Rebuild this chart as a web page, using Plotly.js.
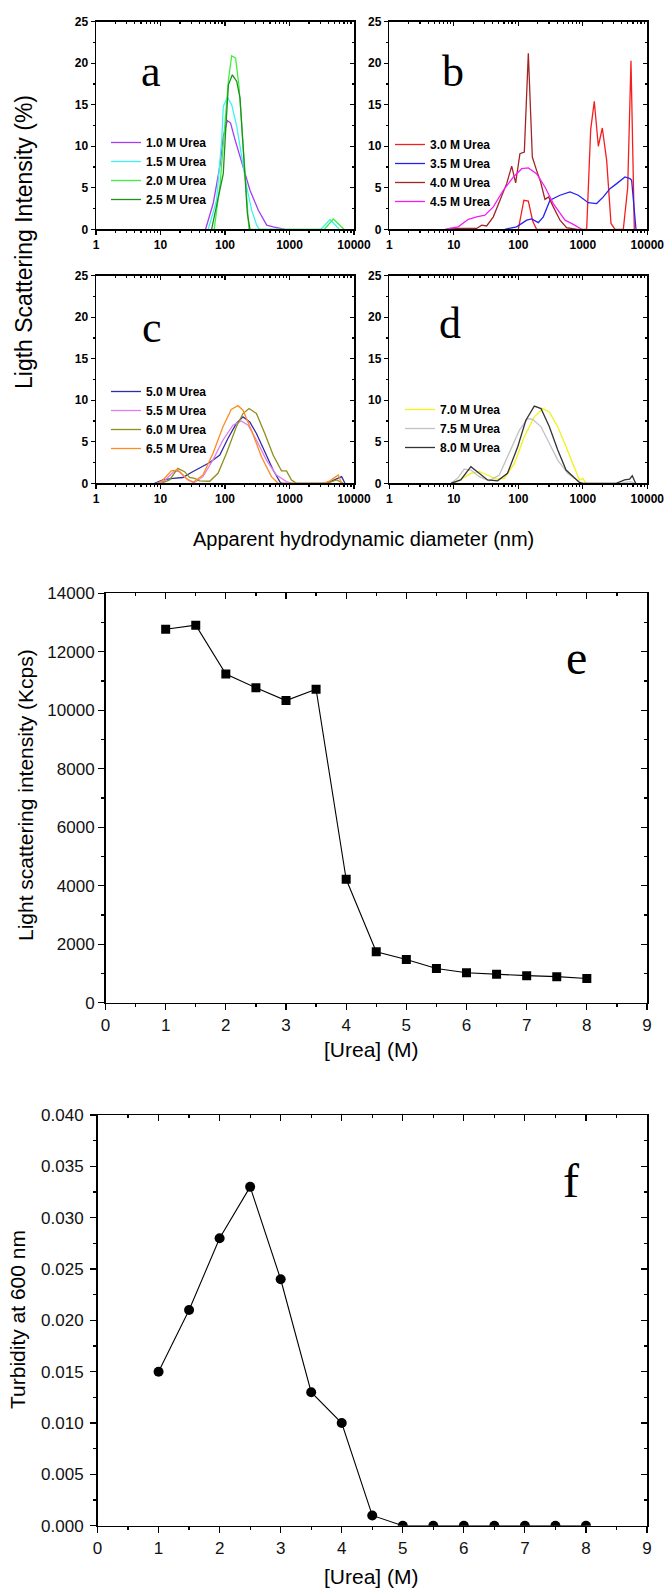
<!DOCTYPE html>
<html><head><meta charset="utf-8">
<script src="https://cdn.plot.ly/plotly-3.0.1.min.js"></script>
<style>html,body{margin:0;padding:0;background:#fff}</style>
</head><body><div id="chart" style="width:665px;height:1591px"></div>
<script>
// ---------- DATA ----------
// Panel a
const a_names = ['1.0 M Urea','1.5 M Urea','2.0 M Urea','2.5 M Urea'];
const a1_d = [50, 66, 84, 94, 109, 122, 143, 171, 204, 244, 329, 443, 561, 851];
const a1_v = [0, 3.2, 7.8, 11.2, 13.1, 12.8, 10.8, 8.7, 6.7, 4.7, 2.3, 0.5, 0.3, 0];
const a2_d = [55, 74, 89, 94, 109, 127, 152, 181, 217, 259, 310, 340, 3080, 4246, 5900];
const a2_v = [0, 3.5, 10.8, 14.8, 15.9, 15.0, 12.4, 8.7, 5.1, 2.3, 0.5, 0, 0, 1.18, 0];
const a3_d = [68, 84, 100, 113, 127, 146, 165, 192, 222, 235, 3467, 4786, 7000];
const a3_v = [0, 5.5, 12.8, 18.0, 20.9, 20.6, 17.2, 9.5, 2.7, 0, 0, 1.24, 0];
const a4_d = [62, 79, 94, 104, 113, 130, 152, 171, 192, 222, 244];
const a4_v = [0, 3.9, 6.7, 12.8, 17.4, 18.6, 17.8, 15.8, 10.0, 1.9, 0];
// Panel b
const b_names = ['3.0 M Urea','3.5 M Urea','4.0 M Urea','4.5 M Urea'];
const b1_d = [100, 122, 143, 167, 192, 1148, 1325, 1507, 1740, 2006, 2344, 2737, 3162, 4246, 4966, 5585, 6290];
const b1_v = [0, 3.5, 3.4, 1.0, 0, 0, 12.0, 15.4, 10.0, 12.2, 8.3, 0.7, 0, 0, 5.0, 20.3, 0];
const b2_d = [62, 94, 135, 161, 204, 244, 310, 443, 633, 851, 1217, 1637, 2079, 2638, 3350, 4506, 5385, 5717, 6673];
const b2_v = [0, 0.3, 1.1, 1.25, 0.8, 1.5, 3.5, 4.1, 4.5, 4.1, 3.2, 3.1, 3.9, 4.9, 5.5, 6.3, 6.1, 5.9, 0];
const b3_d = [7.7, 8.7, 22.6, 27, 32.3, 41, 52, 66, 79, 91, 106, 124, 143, 165, 192, 222, 259, 295, 349, 443, 561, 802];
const b3_v = [0, 0.1, 0.1, 0.5, 0.4, 1.5, 3.5, 5.5, 7.6, 5.6, 9.1, 9.3, 21.2, 8.7, 7.1, 5.7, 3.6, 3.9, 2.7, 1.1, 0.2, 0];
const b4_d = [7.3, 11.7, 16.8, 22.6, 30.4, 41, 58.5, 84, 113, 143, 192, 259, 349, 530, 713, 959];
const b4_v = [0, 0.3, 1.2, 1.5, 1.7, 2.7, 4.7, 6.3, 7.3, 7.4, 6.7, 5.1, 3.1, 1.1, 0.6, 0];
// Panel c
const c_names = ['5.0 M Urea','5.5 M Urea','6.0 M Urea','6.5 M Urea'];
const c1_d = [8.1, 10.9, 15.6, 22.2, 30, 40, 58, 83, 111, 150, 190, 242, 307, 414, 557, 707, 751, 3757, 4775, 6428, 7244];
const c1_v = [0, 0.4, 0.6, 0.7, 1.3, 1.8, 2.5, 3.4, 5.4, 7.2, 8.0, 7.4, 6.0, 3.8, 1.6, 0.2, 0, 0, 0.4, 0.8, 0];
const c2_d = [8.6, 11.5, 16.5, 19.7, 26.6, 33.8, 45.5, 65, 93, 133, 179, 228, 307, 439, 628, 898, 1074];
const c2_v = [0, 0.3, 1.5, 1.4, 0.4, 0.1, 0.8, 2.8, 5.2, 7.0, 7.5, 7.0, 5.2, 2.8, 1.0, 0.2, 0];
const c3_d = [10.2, 13.8, 18.6, 23.6, 28.2, 33.8, 40, 58, 78, 105, 150, 190, 236, 307, 414, 557, 751, 898, 1074, 1284, 3757, 5380, 6820];
const c3_v = [0, 0.4, 1.8, 1.4, 0.7, 0.6, 0.3, 0.25, 1.2, 3.6, 6.8, 8.4, 9.0, 8.4, 6.0, 3.4, 1.5, 1.5, 0.4, 0, 0, 0.4, 0];
const c4_d = [9.1, 10.9, 14.7, 18.6, 25, 31.8, 45.5, 65, 93, 125, 159, 190, 257, 367, 525, 667, 3337, 4236, 5702, 6428];
const c4_v = [0, 0.4, 1.5, 1.6, 0.6, 0.1, 1.0, 3.6, 6.8, 8.9, 9.35, 8.8, 6.4, 3.2, 0.8, 0, 0, 0.3, 1.0, 0];
// Panel d
const d_names = ['7.0 M Urea','7.5 M Urea','8.0 M Urea'];
const d1_d = [10.1, 13.6, 18.4, 24.8, 33.4, 45, 60.6, 87, 124, 177, 239, 303, 409, 550, 742, 888, 1000, 1127];
const d1_v = [0, 0.6, 1.2, 1.4, 1.0, 0.5, 0.6, 2.4, 5.6, 8.0, 9.0, 8.6, 6.8, 4.4, 2.0, 0.4, 0.6, 0];
const d2_d = [9, 11.4, 14.5, 18.4, 24.8, 35.4, 50.7, 72, 104, 140, 167, 225, 303, 409, 584, 787, 942, 3757, 5380, 6820];
const d2_v = [0, 0.6, 1.7, 1.6, 0.8, 0.3, 1.0, 3.6, 6.4, 7.8, 7.7, 6.8, 4.8, 2.8, 1.2, 0.4, 0, 0, 0.2, 0];
const d3_d = [9, 12.8, 18.4, 24.8, 33.4, 47.7, 68, 98, 131, 177, 225, 303, 409, 550, 742, 888, 1000, 3300, 4446, 5310, 5848, 6590];
const d3_v = [0, 0.4, 2.0, 1.2, 0.4, 0.3, 1.2, 4.4, 7.6, 9.3, 9.0, 6.8, 4.0, 1.6, 0.6, 0.1, 0, 0, 0.4, 0.5, 0.9, 0];
// Panels e, f
const urea = [1, 1.5, 2, 2.5, 3, 3.5, 4, 4.5, 5, 5.5, 6, 6.5, 7, 7.5, 8];
const lsIntensity = [12770, 12910, 11240, 10770, 10330, 10720, 4220, 1745, 1480, 1170, 1025, 970, 925, 890, 830];
const turbidity = [0.015, 0.021, 0.028, 0.033, 0.024, 0.013, 0.010, 0.001, 0, 0, 0, 0, 0, 0, 0];

// ---------- STYLE / LAYOUT ----------
const W = 665, H = 1591;
const SANS = '"Liberation Sans", Arial, sans-serif';
const SERIF = '"Liberation Serif", "Times New Roman", serif';
const colA = ['#a43cf2', '#3ef2f2', '#3ef03e', '#1f8f1f'];
const colB = ['#f51e1e', '#2323f0', '#a02626', '#f51ef5'];
const colC = ['#2d2da5', '#e27ef2', '#8f8f1c', '#ff8c1f'];
const colD = ['#f2f21a', '#c2c2c2', '#333333'];

const panels = [
  {id: 1, x0: 96, x1: 354, y0: 21.7, y1: 229.3},
  {id: 2, x0: 389.3, x1: 647.3, y0: 21.7, y1: 229.3},
  {id: 3, x0: 96, x1: 354, y0: 275.7, y1: 483.3},
  {id: 4, x0: 389.3, x1: 647.3, y0: 275.7, y1: 483.3},
  {id: 5, x0: 105.5, x1: 647, y0: 593.3, y1: 1002.7},
  {id: 6, x0: 97.5, x1: 647, y0: 1115, y1: 1525.7}
];

const layout = {
  width: W, height: H, margin: {l: 0, r: 0, t: 0, b: 0},
  paper_bgcolor: '#fff', plot_bgcolor: 'rgba(0,0,0,0)',
  showlegend: true, annotations: [], font: {family: SANS, color: '#000'}
};
const data = [];

function axisSpec(p, isX, overlay) {
  const dls = p.id <= 4;
  const base = {
    showgrid: false, zeroline: false, showline: true, linecolor: '#000',
    linewidth: 1.5, tickcolor: '#000', tickwidth: 1.2,
    ticklen: dls ? 4 : 6, fixedrange: true,
    ticks: overlay ? 'inside' : 'outside',
    showticklabels: !overlay,
    tickfont: dls ? {family: SANS, size: 12, weight: 'bold', color: '#000'}
                  : {family: SANS, size: 17, color: '#111'}
  };
  const mt = overlay ? 'inside' : 'outside';
  let s;
  if (isX) {
    if (dls) s = {type: 'log', range: [0, 4], dtick: 1, tickformat: 'd',
                  minor: {dtick: 'D1', ticklen: 2, tickcolor: '#000', ticks: mt}};
    else s = {type: 'linear', range: [0, 9], dtick: 1, tickformat: 'd',
              minor: {dtick: 0.5, ticklen: 3, tickcolor: '#000', ticks: mt}};
  } else {
    if (dls) s = {range: [0, 25], dtick: 5, tickformat: 'd',
                  minor: {dtick: 2.5, ticklen: 2, tickcolor: '#000', ticks: mt}};
    else if (p.id === 5) s = {range: [0, 14000], dtick: 2000, tickformat: 'd',
                  minor: {dtick: 1000, ticklen: 3, tickcolor: '#000', ticks: mt}};
    else s = {range: [0, 0.04], dtick: 0.005, tickformat: '.3f',
              minor: {dtick: 0.0025, ticklen: 3, tickcolor: '#000', ticks: mt}};
  }
  return Object.assign(base, s, {autorange: false});
}

panels.forEach(p => {
  const sfx = p.id === 1 ? '' : String(p.id);
  const o = String(p.id + 6);
  const xa = axisSpec(p, true, false);
  xa.domain = [p.x0 / W, p.x1 / W]; xa.anchor = 'y' + sfx;
  const ya = axisSpec(p, false, false);
  ya.domain = [1 - p.y1 / H, 1 - p.y0 / H]; ya.anchor = 'x' + sfx;
  const xo = axisSpec(p, true, true);
  xo.overlaying = 'x' + sfx; xo.anchor = 'y' + o; xo.side = 'top';
  const yo = axisSpec(p, false, true);
  yo.overlaying = 'y' + sfx; yo.anchor = 'x' + o; yo.side = 'right';
  layout['xaxis' + sfx] = xa; layout['yaxis' + sfx] = ya;
  layout['xaxis' + o] = xo; layout['yaxis' + o] = yo;
  data.push({type: 'scatter', x: [], y: [], xaxis: 'x' + o, yaxis: 'y' + o,
             showlegend: false, hoverinfo: 'skip', mode: 'lines'});
});
layout.yaxis6.ticklabelstandoff = 3;

function addSeries(ds, vs, names, cols, ax, leg) {
  for (let i = 0; i < ds.length; i++) {
    data.push({type: 'scatter', mode: 'lines', x: ds[i], y: vs[i], name: names[i],
      xaxis: 'x' + ax, yaxis: 'y' + ax, legend: leg,
      line: {color: cols[i], width: 1.3}});
  }
}
addSeries([a1_d, a2_d, a3_d, a4_d], [a1_v, a2_v, a3_v, a4_v], a_names, colA, '', 'legend');
addSeries([b1_d, b2_d, b3_d, b4_d], [b1_v, b2_v, b3_v, b4_v], b_names, colB, '2', 'legend2');
addSeries([c1_d, c2_d, c3_d, c4_d], [c1_v, c2_v, c3_v, c4_v], c_names, colC, '3', 'legend3');
addSeries([d1_d, d2_d, d3_d], [d1_v, d2_v, d3_v], d_names, colD, '4', 'legend4');

data.push({type: 'scatter', mode: 'lines+markers', x: urea, y: lsIntensity,
  xaxis: 'x5', yaxis: 'y5', showlegend: false,
  line: {color: '#000', width: 1.1},
  marker: {symbol: 'square', size: 9, color: '#000'}});
data.push({type: 'scatter', mode: 'lines+markers', x: urea, y: turbidity,
  xaxis: 'x6', yaxis: 'y6', showlegend: false,
  line: {color: '#000', width: 1.1},
  marker: {symbol: 'circle', size: 10, color: '#000'}});

function legendSpec(left, top) {
  return {x: left / W, y: 1 - top / H, xanchor: 'left', yanchor: 'top',
    bgcolor: 'rgba(0,0,0,0)', borderwidth: 0, tracegroupgap: 0, itemwidth: 30,
    font: {family: SANS, size: 12, weight: 'bold', color: '#000'}};
}
layout.legend = legendSpec(106, 128);
layout.legend2 = legendSpec(390, 130);
layout.legend3 = legendSpec(106, 377);
layout.legend4 = legendSpec(400, 395);

function ann(text, x, y, size, family, extra) {
  layout.annotations.push(Object.assign({text: text, x: x / W, y: 1 - y / H, xref: 'paper', yref: 'paper',
    showarrow: false, xanchor: 'center', yanchor: 'middle',
    font: {family: family, size: size, color: '#000'}}, extra || {}));
}
ann('a', 151, 72, 44, SERIF);
ann('b', 453, 72, 44, SERIF);
ann('c', 152, 327, 44, SERIF);
ann('d', 450, 323, 44, SERIF);
ann('e', 576, 657, 48, SERIF);
ann('f', 571, 1180, 48, SERIF);
ann('Ligth Scattering Intensity (%)', 24, 242, 23, SANS, {textangle: -90});
ann('Apparent hydrodynamic diameter (nm)', 363, 539, 20, SANS);
// e, f axis titles
ann('Light scattering intensity (Kcps)', 25, 795, 21, SANS, {textangle: -90});
ann('[Urea] (M)', 371, 1049, 21, SANS);
ann('Turbidity at 600 nm', 17, 1320, 21, SANS, {textangle: -90});
ann('[Urea] (M)', 371, 1576, 21, SANS);

Plotly.newPlot('chart', data, layout, {staticPlot: true});
</script>
</body></html>
